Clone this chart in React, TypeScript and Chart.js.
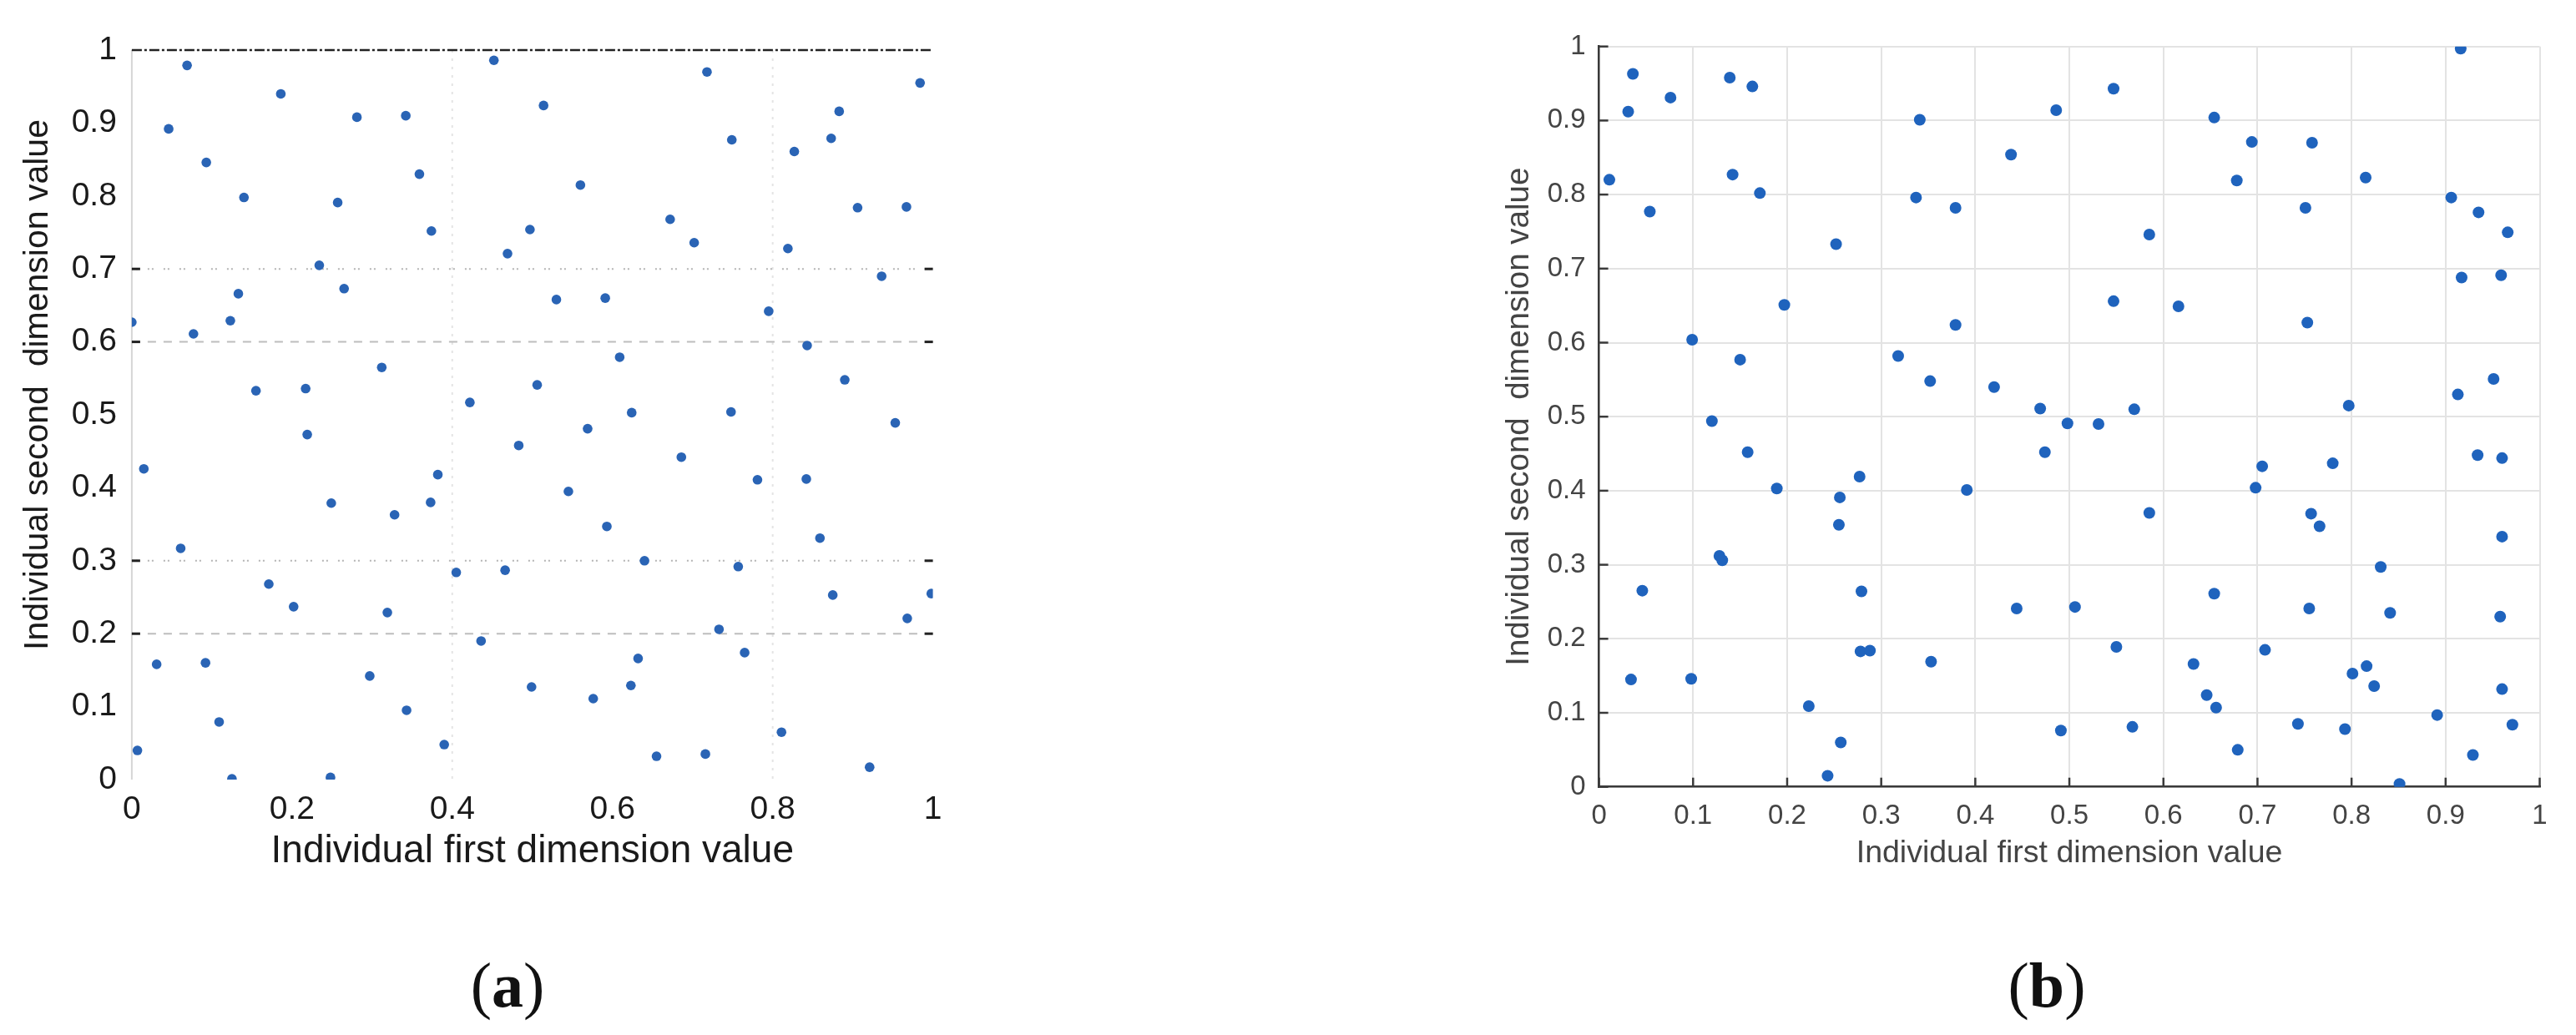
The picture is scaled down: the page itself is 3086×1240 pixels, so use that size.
import React, { useEffect, useRef } from "react";
import { Chart, registerables } from "chart.js";

Chart.register(...registerables);

// ---------- data: panel (a) ----------
const leftX = [
  0.069, 0.046, 0.093, 0.140, 0.186, 0.281, 0.342, 0.257, 0.359, 0.374, 0.452, 0.469,
  0.234, 0.265, 0.133, 0.123, 0.000, 0.077, 0.312, 0.155, 0.217, 0.422,
  0.514, 0.718, 0.749, 0.560, 0.497, 0.672, 0.702, 0.827, 0.873, 0.883, 0.984, 0.906,
  0.967, 0.819, 0.936, 0.530, 0.591, 0.795, 0.843, 0.609, 0.506, 0.890, 0.624, 0.748, 0.953,
  0.219, 0.015, 0.249, 0.328, 0.373, 0.382, 0.483, 0.061, 0.171, 0.202, 0.319, 0.405,
  0.466, 0.436, 0.031, 0.092, 0.297, 0.499, 0.343, 0.109, 0.390, 0.007, 0.125, 0.248,
  0.569, 0.686, 0.545, 0.781, 0.842, 0.593, 0.859, 0.640, 0.757, 0.875, 0.998, 0.968,
  0.733, 0.765, 0.632, 0.623, 0.576, 0.811, 0.655, 0.716, 0.921,
];
const leftY = [
  0.979, 0.892, 0.846, 0.798, 0.940, 0.908, 0.910, 0.791, 0.830, 0.752, 0.986, 0.721,
  0.705, 0.673, 0.666, 0.629, 0.627, 0.611, 0.565, 0.533, 0.536, 0.517,
  0.924, 0.970, 0.877, 0.815, 0.754, 0.768, 0.736, 0.861, 0.879, 0.916, 0.955, 0.784,
  0.785, 0.728, 0.690, 0.658, 0.660, 0.642, 0.595, 0.579, 0.541, 0.548, 0.503, 0.504, 0.489,
  0.473, 0.426, 0.379, 0.363, 0.380, 0.418, 0.458, 0.317, 0.268, 0.237, 0.229, 0.284,
  0.287, 0.190, 0.158, 0.160, 0.142, 0.127, 0.095, 0.079, 0.048, 0.040, 0.001, 0.003,
  0.481, 0.442, 0.395, 0.411, 0.412, 0.347, 0.331, 0.300, 0.292, 0.253, 0.255, 0.221,
  0.206, 0.174, 0.166, 0.129, 0.111, 0.065, 0.032, 0.035, 0.017,
];

// ---------- data: panel (b) ----------
const rightX = [
  0.036, 0.031, 0.076, 0.011, 0.054, 0.139, 0.163, 0.142, 0.171, 0.252, 0.197, 0.099,
  0.150, 0.120, 0.341, 0.337, 0.379, 0.438, 0.486, 0.379, 0.318, 0.352, 0.420, 0.469, 0.498,
  0.547, 0.654, 0.694, 0.758, 0.678, 0.815, 0.751, 0.916, 0.906, 0.935, 0.966, 0.585,
  0.917, 0.959, 0.547, 0.616, 0.753, 0.951, 0.913, 0.797, 0.569, 0.531,
  0.158, 0.189, 0.277, 0.256, 0.255, 0.391, 0.474, 0.128, 0.131, 0.046, 0.279, 0.444,
  0.278, 0.288, 0.353, 0.034, 0.098, 0.223, 0.257, 0.243, 0.491,
  0.934, 0.960, 0.705, 0.780, 0.698, 0.585, 0.757, 0.766, 0.960, 0.831, 0.654, 0.506,
  0.755, 0.841, 0.958, 0.550, 0.708, 0.632, 0.816, 0.801, 0.824, 0.960, 0.646, 0.656,
  0.891, 0.567, 0.743, 0.793, 0.971, 0.679, 0.929, 0.851,
];
const rightY = [
  0.963, 0.912, 0.931, 0.820, 0.777, 0.958, 0.946, 0.827, 0.802, 0.733, 0.651, 0.604,
  0.577, 0.494, 0.901, 0.796, 0.782, 0.854, 0.914, 0.624, 0.582, 0.548, 0.540, 0.511, 0.491,
  0.943, 0.904, 0.871, 0.870, 0.819, 0.823, 0.782, 0.997, 0.796, 0.776, 0.749, 0.746,
  0.688, 0.691, 0.656, 0.649, 0.627, 0.551, 0.530, 0.515, 0.510, 0.490,
  0.452, 0.403, 0.419, 0.391, 0.354, 0.401, 0.452, 0.312, 0.306, 0.265, 0.264, 0.241,
  0.183, 0.184, 0.169, 0.145, 0.146, 0.109, 0.060, 0.015, 0.076,
  0.448, 0.444, 0.433, 0.437, 0.404, 0.370, 0.369, 0.352, 0.338, 0.297, 0.261, 0.243,
  0.241, 0.235, 0.230, 0.189, 0.185, 0.166, 0.163, 0.153, 0.136, 0.132, 0.124, 0.107,
  0.097, 0.081, 0.085, 0.078, 0.084, 0.050, 0.043, 0.004,
];

// ---------- ticks / labels ----------
const leftXTicks = [0, 0.2, 0.4, 0.6, 0.8, 1];
const yTicks = [0, 0.1, 0.2, 0.3, 0.4, 0.5, 0.6, 0.7, 0.8, 0.9, 1];
const rightXTicks = [0, 0.1, 0.2, 0.3, 0.4, 0.5, 0.6, 0.7, 0.8, 0.9, 1];
const leftTopLineY = [1];
const leftDottedY = [0.7, 0.3];
const leftDashedY = [0.6, 0.2];
const leftVGridX = [0.4, 0.8];
const xTitle = "Individual first dimension value";
const yTitle = "Individual second  dimension value";
const panelLabels = ["a", "b"];

const FONT = '"Liberation Sans", Arial, Helvetica, sans-serif';
const fmt = (v: any) => String(Math.round(Number(v) * 10) / 10);
const setTicks = (arr: number[]) => (s: any) => {
  s.ticks = arr.map((v) => ({ value: v }));
};

const leftDecor = {
  id: "leftDecor",
  beforeDatasetsDraw(chart: any) {
    const { ctx, chartArea: a, scales } = chart;
    const x = scales.x;
    const y = scales.y;
    ctx.save();
    const hline = (v: number, color: string, dash: number[], w: number, x0 = a.left, x1 = a.right) => {
      const py = y.getPixelForValue(v);
      ctx.beginPath();
      ctx.setLineDash(dash);
      ctx.strokeStyle = color;
      ctx.lineWidth = w;
      ctx.moveTo(x0, py);
      ctx.lineTo(x1, py);
      ctx.stroke();
    };
    // left axis (light)
    ctx.beginPath();
    ctx.setLineDash([]);
    ctx.strokeStyle = "#d6d6d6";
    ctx.lineWidth = 2;
    ctx.moveTo(a.left, a.top);
    ctx.lineTo(a.left, a.bottom);
    ctx.stroke();
    // faint vertical grid
    leftVGridX.forEach((v) => {
      const px = x.getPixelForValue(v);
      ctx.beginPath();
      ctx.setLineDash([3, 7]);
      ctx.strokeStyle = "#e4e4e4";
      ctx.lineWidth = 2;
      ctx.moveTo(px, a.top);
      ctx.lineTo(px, a.bottom);
      ctx.stroke();
    });
    leftDottedY.forEach((v) => hline(v, "#b4b4b4", [2, 3, 2, 12], 2));
    leftDashedY.forEach((v) => hline(v, "#bdbdbd", [10, 9], 2));
    leftTopLineY.forEach((v) => hline(v, "#222222", [12, 3, 3, 3], 2.5));
    // black short ticks inside at both ends
    [...leftDottedY, ...leftDashedY].forEach((v) => {
      hline(v, "#222222", [], 3, a.left, a.left + 10);
      hline(v, "#222222", [], 3, a.right - 10, a.right);
    });
    // y-axis title (placed a bit above the axis centre, as in the original)
    const cy = y.getPixelForValue(0.5) - 36;
    ctx.setLineDash([]);
    ctx.translate(46, cy);
    ctx.rotate(-Math.PI / 2);
    ctx.fillStyle = "#1a1a1a";
    ctx.font = `41px ${FONT}`;
    ctx.textAlign = "center";
    ctx.textBaseline = "middle";
    ctx.fillText(yTitle, 0, 0);
    ctx.restore();
  },
};

const rightTicks = {
  id: "rightTicks",
  afterDatasetsDraw(chart: any) {
    const { ctx, chartArea: a, scales } = chart;
    ctx.save();
    ctx.strokeStyle = "#3a3a3a";
    ctx.lineWidth = 2.5;
    ctx.setLineDash([]);
    rightXTicks.forEach((v) => {
      const px = scales.x.getPixelForValue(v);
      ctx.beginPath();
      ctx.moveTo(px, a.bottom);
      ctx.lineTo(px, a.bottom - 11);
      ctx.stroke();
    });
    yTicks.forEach((v) => {
      const py = scales.y.getPixelForValue(v);
      ctx.beginPath();
      ctx.moveTo(a.left, py);
      ctx.lineTo(a.left + 11, py);
      ctx.stroke();
    });
    ctx.restore();
  },
};

function makeLeft(canvas: HTMLCanvasElement) {
  const tickColor = "#1a1a1a";
  return new Chart(canvas, {
    type: "scatter",
    data: {
      datasets: [
        {
          data: leftX.map((x, i) => ({ x, y: leftY[i] })),
          backgroundColor: "#2a64b5",
          borderColor: "#2a64b5",
          borderWidth: 0,
          pointRadius: 5.8,
        },
      ],
    },
    options: {
      responsive: false,
      animation: false,
      events: [],
      layout: { padding: { left: 0, top: 60, right: 3086 - 1117.6, bottom: 186 } },
      plugins: { legend: { display: false }, tooltip: { enabled: false } },
      scales: {
        x: {
          type: "linear",
          min: 0,
          max: 1,
          afterBuildTicks: setTicks(leftXTicks),
          afterFit: (s: any) => {
            s.height = 120;
          },
          grid: { display: false, drawTicks: false },
          border: { display: false },
          ticks: {
            padding: 12.6,
            font: { family: FONT, size: 39 },
            color: tickColor,
            maxRotation: 0,
            autoSkip: false,
            callback: fmt,
          },
          title: {
            display: true,
            text: xTitle,
            font: { family: FONT, size: 46 },
            color: tickColor,
            padding: { top: 0, bottom: 6.4 },
          },
        },
        y: {
          type: "linear",
          min: 0,
          max: 1,
          afterBuildTicks: setTicks(yTicks),
          afterFit: (s: any) => {
            s.width = 157.9;
          },
          grid: { display: false, drawTicks: false },
          border: { display: false },
          ticks: {
            padding: 18,
            font: { family: FONT, size: 39 },
            color: tickColor,
            autoSkip: false,
            callback: fmt,
          },
          title: { display: false },
        },
      },
    } as any,
    plugins: [leftDecor],
  });
}

function makeRight(canvas: HTMLCanvasElement) {
  const txt = "#444444";
  return new Chart(canvas, {
    type: "scatter",
    data: {
      datasets: [
        {
          data: rightX.map((x, i) => ({ x, y: rightY[i] })),
          backgroundColor: "#1f63bd",
          borderColor: "#1f63bd",
          borderWidth: 0,
          pointRadius: 7,
        },
      ],
    },
    options: {
      responsive: false,
      animation: false,
      events: [],
      layout: { padding: { left: 1780, top: 55.7, right: 3086 - 3042.5, bottom: 177.3 } },
      plugins: { legend: { display: false }, tooltip: { enabled: false } },
      scales: {
        x: {
          type: "linear",
          min: 0,
          max: 1,
          afterBuildTicks: setTicks(rightXTicks),
          afterFit: (s: any) => {
            s.height = 120;
          },
          grid: { color: "#e3e3e3", lineWidth: 2, drawTicks: false },
          border: { display: true, color: "#3a3a3a", width: 2.5 },
          ticks: {
            padding: 15.5,
            font: { family: FONT, size: 33 },
            color: txt,
            maxRotation: 0,
            autoSkip: false,
            callback: fmt,
          },
          title: {
            display: true,
            text: xTitle,
            font: { family: FONT, size: 37.5 },
            color: txt,
            padding: { top: 0, bottom: 17.2 },
          },
        },
        y: {
          type: "linear",
          min: 0,
          max: 1,
          afterBuildTicks: setTicks(yTicks),
          afterFit: (s: any) => {
            s.width = 1915.6 - 1780;
          },
          grid: { color: "#e3e3e3", lineWidth: 2, drawTicks: false },
          border: { display: true, color: "#3a3a3a", width: 2.5 },
          ticks: {
            padding: 16,
            font: { family: FONT, size: 33 },
            color: txt,
            autoSkip: false,
            callback: fmt,
          },
          title: {
            display: true,
            text: yTitle,
            font: { family: FONT, size: 38.5 },
            color: txt,
            padding: { top: 17, bottom: 0 },
          },
        },
      },
    } as any,
    plugins: [rightTicks],
  });
}

export default function App() {
  const leftRef = useRef<HTMLCanvasElement>(null);
  const rightRef = useRef<HTMLCanvasElement>(null);

  useEffect(() => {
    const c1 = makeLeft(leftRef.current as HTMLCanvasElement);
    const c2 = makeRight(rightRef.current as HTMLCanvasElement);
    return () => {
      c1.destroy();
      c2.destroy();
    };
  }, []);

  const canvasStyle: React.CSSProperties = {
    position: "absolute",
    left: 0,
    top: 0,
    width: 3086,
    height: 1240,
  };
  const labelCenters = [608, 2452];

  return (
    <div
      style={{
        position: "absolute",
        left: 0,
        top: 0,
        width: 3086,
        height: 1240,
        background: "#ffffff",
        overflow: "hidden",
      }}
    >
      <canvas ref={leftRef} width={3086} height={1240} style={canvasStyle} />
      <canvas ref={rightRef} width={3086} height={1240} style={canvasStyle} />
      {panelLabels.map((l, i) => (
        <div
          key={l}
          style={{
            position: "absolute",
            left: labelCenters[i] - 100,
            top: 1142,
            width: 200,
            textAlign: "center",
            fontFamily: '"Liberation Serif", "DejaVu Serif", serif',
            fontSize: 76,
            lineHeight: "76px",
            color: "#111111",
          }}
        >
          (<b>{l}</b>)
        </div>
      ))}
    </div>
  );
}
